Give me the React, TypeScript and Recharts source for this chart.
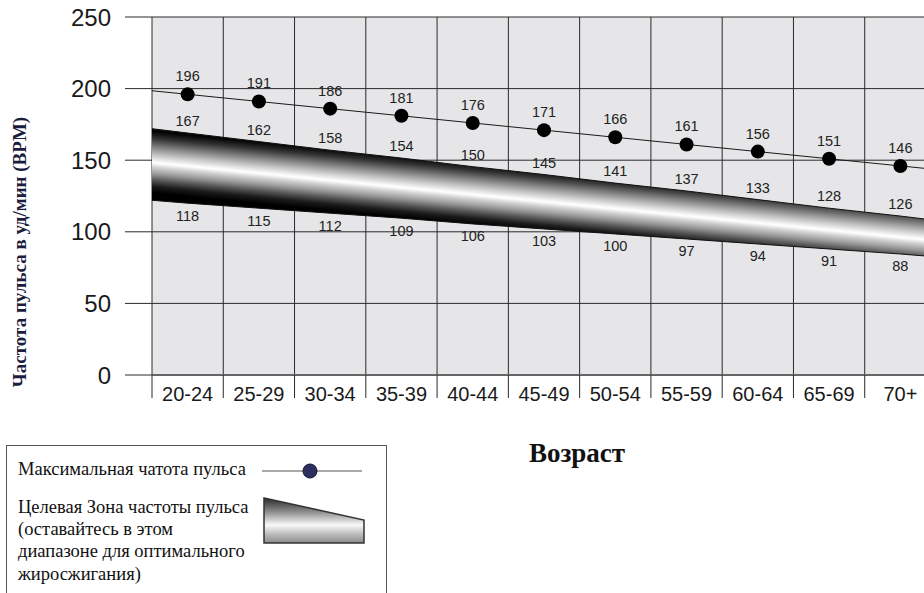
import React from 'react';
import { ComposedChart, Area, Line, XAxis, YAxis, CartesianGrid } from 'recharts';

const ageGroups = ['20-24', '25-29', '30-34', '35-39', '40-44', '45-49', '50-54', '55-59', '60-64', '65-69', '70+'];
const maxHeartRate = [196, 191, 186, 181, 176, 171, 166, 161, 156, 151, 146];
const zoneHigh = [167, 162, 158, 154, 150, 145, 141, 137, 133, 128, 126];
const zoneLow = [118, 115, 112, 109, 106, 103, 100, 97, 94, 91, 88];

// where the drawn band sits at each age group (the graphic does not follow zoneHigh/zoneLow exactly)
const bandTop = [169, 163, 157, 151.5, 145.5, 140, 134, 128.5, 122.5, 116.5, 111];
const bandBottom = [120, 116.5, 113, 109.5, 105.5, 102, 98.5, 95, 91.5, 88, 84.5];
// band and max line run on to the left / right edge of the plot
const edgeBandTop = [172, 108];
const edgeBandBottom = [122, 82.5];
const edgeMaxLine = [198.5, 143.5];

const yTicks = [0, 50, 100, 150, 200, 250];
const boundaryTicks = ageGroups.map((_, i) => i).concat([ageGroups.length]);
const centerTicks = ageGroups.map((_, i) => i + 0.5);

const rows = [
  { x: 0, band: [edgeBandBottom[0], edgeBandTop[0]], maxLine: edgeMaxLine[0] },
  ...ageGroups.map((age, i) => ({
    x: i + 0.5,
    age,
    max: maxHeartRate[i],
    maxLine: maxHeartRate[i],
    high: zoneHigh[i],
    low: zoneLow[i],
    top: bandTop[i],
    bottom: bandBottom[i],
    band: [bandBottom[i], bandTop[i]],
  })),
  { x: ageGroups.length, band: [edgeBandBottom[1], edgeBandTop[1]], maxLine: edgeMaxLine[1] },
];

const SANS = '"Liberation Sans", Arial, sans-serif';
const SERIF = '"Liberation Serif", "Times New Roman", serif';

function MaxDot(props: any) {
  const { cx, cy, payload, index } = props;
  if (payload == null || payload.max == null || cx == null || cy == null) return <g key={`max-${index}`} />;
  return (
    <g key={`max-${index}`}>
      <circle cx={cx} cy={cy} r={7} fill="#000" />
      <text x={cx} y={cy - 18} textAnchor="middle" dominantBaseline="central" fontSize={14.5} fontFamily={SANS} fill="#222">
        {payload.max}
      </text>
    </g>
  );
}

const zoneLabel = (field: 'high' | 'low', shift: number) => (props: any) => {
  const { cx, cy, payload, index } = props;
  if (payload == null || payload[field] == null || cx == null || cy == null) return <g key={`${field}-${index}`} />;
  return (
    <text key={`${field}-${index}`} x={cx} y={cy + shift} textAnchor="middle" dominantBaseline="central" fontSize={14.5} fontFamily={SANS} fill="#222">
      {payload[field]}
    </text>
  );
};

function Legend() {
  const text: React.CSSProperties = { position: 'absolute', left: 11, fontFamily: SERIF, fontSize: 18.5, lineHeight: '22.2px', color: '#111', whiteSpace: 'nowrap' };
  return (
    <div style={{ position: 'absolute', left: 6, top: 445, width: 379, height: 170, border: '1px solid #555', background: '#fff' }}>
      <div style={{ ...text, top: 12 }}>Максимальная чатота пульса</div>
      <div style={{ ...text, top: 50 }}>
        Целевая Зона частоты пульса
        <br />
        (оставайтесь в этом
        <br />
        диапазоне для оптимального
        <br />
        жиросжигания)
      </div>
      <svg width={379} height={170} style={{ position: 'absolute', left: 0, top: 0 }}>
        <defs>
          <linearGradient id="legendFill" x1="0" y1="0" x2="0" y2="1">
            <stop offset="0" stopColor="#2a2a2a" />
            <stop offset="0.3" stopColor="#8a8a8a" />
            <stop offset="0.6" stopColor="#fafafa" />
            <stop offset="0.8" stopColor="#bdbdbd" />
            <stop offset="1" stopColor="#8c8c8c" />
          </linearGradient>
        </defs>
        <line x1={255} y1={25} x2={355} y2={25} stroke="#555" strokeWidth={1} />
        <circle cx={303} cy={25} r={7} fill="#2d2f5e" stroke="#151530" strokeWidth={1} />
        <polygon points="257,52 357,74 357,97 257,97" fill="url(#legendFill)" stroke="#333" strokeWidth={1.5} />
      </svg>
    </div>
  );
}

export default function App() {
  return (
    <div style={{ position: 'absolute', left: 0, top: 0, width: 924, height: 593, overflow: 'hidden', background: '#fff' }}>
      <ComposedChart width={936} height={420} data={rows} margin={{ top: 17, right: 0, bottom: 0, left: 0 }}>
        <defs>
          <linearGradient id="zoneFill" x1="0.618" y1="0.378" x2="0.396" y2="0.742">
            <stop offset="0" stopColor="#000" />
            <stop offset="0.05" stopColor="#080808" />
            <stop offset="0.15" stopColor="#333" />
            <stop offset="0.3" stopColor="#8a8a8a" />
            <stop offset="0.42" stopColor="#cccccc" />
            <stop offset="0.5" stopColor="#f4f4f4" />
            <stop offset="0.53" stopColor="#fff" />
            <stop offset="0.6" stopColor="#d0d0d0" />
            <stop offset="0.7" stopColor="#999" />
            <stop offset="0.8" stopColor="#555" />
            <stop offset="0.9" stopColor="#1a1a1a" />
            <stop offset="1" stopColor="#000" />
          </linearGradient>
        </defs>
        <CartesianGrid xAxisId={0} stroke="#2a2a2a" fill="#e6e6e8" fillOpacity={1} />
        <XAxis
          xAxisId={0}
          type="number"
          dataKey="x"
          domain={[0, ageGroups.length]}
          ticks={boundaryTicks}
          interval={0}
          tickFormatter={() => ''}
          tickSize={23}
          tickLine={{ stroke: '#2a2a2a' }}
          axisLine={{ stroke: '#666', strokeWidth: 2 }}
          height={23}
        />
        <XAxis
          xAxisId="labels"
          type="number"
          dataKey="x"
          domain={[0, ageGroups.length]}
          ticks={centerTicks}
          interval={0}
          tickFormatter={(v: number) => ageGroups[Math.floor(v)]}
          axisLine={false}
          tickLine={false}
          tickSize={0}
          tickMargin={-11}
          height={22}
          tick={{ fontSize: 20, fontFamily: SANS, fill: '#1a1a1a' }}
        />
        <YAxis
          type="number"
          domain={[0, 250]}
          ticks={yTicks}
          interval={0}
          width={152}
          axisLine={false}
          tickSize={27}
          tickMargin={14}
          tickLine={{ stroke: '#2a2a2a' }}
          tick={{ fontSize: 24, fontFamily: SANS, fill: '#1a1a1a' }}
        />
        <Area
          type="linear"
          dataKey="band"
          fill="url(#zoneFill)"
          fillOpacity={1}
          stroke="#111"
          strokeWidth={1}
          isAnimationActive={false}
        />
        <Line type="linear" dataKey="top" stroke="none" dot={zoneLabel('high', -12)} activeDot={false} isAnimationActive={false} />
        <Line type="linear" dataKey="bottom" stroke="none" dot={zoneLabel('low', 12.5)} activeDot={false} isAnimationActive={false} />
        <Line
          type="linear"
          dataKey="maxLine"
          stroke="#1a1a1a"
          strokeWidth={1}
          dot={MaxDot}
          activeDot={false}
          isAnimationActive={false}
        />
      </ComposedChart>
      <svg width={40} height={420} style={{ position: 'absolute', left: 0, top: 0 }}>
        <text
          transform="translate(26,252) rotate(-90)"
          textAnchor="middle"
          fontFamily={SERIF}
          fontWeight="bold"
          fontSize={19}
          fill="#1c1c3e"
        >
          Частота пульса в уд/мин (BPM)
        </text>
      </svg>
      <div
        style={{
          position: 'absolute',
          left: 477,
          top: 437,
          width: 200,
          textAlign: 'center',
          fontFamily: SERIF,
          fontWeight: 'bold',
          fontSize: 27,
          lineHeight: '32px',
          color: '#111',
        }}
      >
        Возраст
      </div>
      <Legend />
    </div>
  );
}
